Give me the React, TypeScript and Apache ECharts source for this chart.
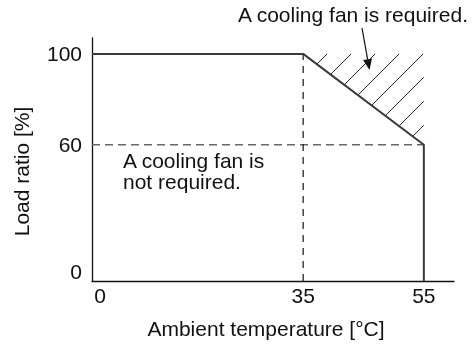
import React, { useEffect, useRef } from "react";
import * as echarts from "echarts";

// Derating curve
const curveX = [0, 35, 55, 55];
const curveY = [100, 100, 60, 0];
// Dashed guide lines
const guideHX = [0, 55];
const guideHY = [60, 60];
const guideVX = [35, 35];
const guideVY = [0, 100];
// Region where a cooling fan is required (hatched)
const hatchX = [35, 55, 55];
const hatchY = [100, 100, 60];
// Tick labels
const xTicks = [0, 35, 55];
const yTicks = [0, 60, 100];

const FONT = "'Liberation Sans', Arial, Helvetica, sans-serif";
const FS = 21;

function pairs(xs: number[], ys: number[]) {
  return xs.map((x, i) => [x, ys[i]]);
}

export default function App() {
  const ref = useRef<HTMLDivElement>(null);
  useEffect(() => {
    if (!ref.current) return;
    const chart = echarts.init(ref.current, null, { renderer: "svg" });

    const tip = [369.5, 70];
    const start = [362, 28];
    const dx = tip[0] - start[0];
    const dy = tip[1] - start[1];
    const len = Math.hypot(dx, dy);
    const ux = dx / len, uy = dy / len;
    const hl = 11, hw = 4.5;
    const bx = tip[0] - ux * hl, by = tip[1] - uy * hl;
    const px = -uy, py = ux;

    chart.setOption({
      animation: false,
      grid: { left: 92, right: 19, top: 38, bottom: 62, containLabel: false },
      textStyle: { fontFamily: FONT },
      xAxis: {
        type: "value",
        min: 0,
        max: 60,
        name: "Ambient temperature [°C]",
        nameLocation: "middle",
        nameGap: 37,
        nameTextStyle: { fontSize: FS, color: "#111", fontFamily: FONT, padding: [0, 14, 0, 0] },
        axisLine: { lineStyle: { color: "#111", width: 1.3 } },
        axisTick: { show: false },
        splitLine: { show: false },
        axisLabel: {
          customValues: xTicks,
          margin: 4,
          fontSize: FS,
          color: "#111",
          fontFamily: FONT,
          formatter: (v: number) => (v === 0 ? "{z|0}" : String(v)),
          rich: { z: { padding: [0, 0, 0, 16], fontSize: FS, color: "#111", fontFamily: FONT } },
        },
      },
      yAxis: {
        type: "value",
        min: 0,
        max: 107,
        name: "Load ratio [%]",
        nameLocation: "middle",
        nameGap: 60,
        nameTextStyle: { fontSize: FS, color: "#111", fontFamily: FONT, padding: [0, 24, 0, 0] },
        axisLine: { lineStyle: { color: "#111", width: 1.3 } },
        axisTick: { show: false },
        splitLine: { show: false },
        axisLabel: {
          customValues: yTicks,
          margin: 10,
          fontSize: FS,
          color: "#111",
          fontFamily: FONT,
          formatter: (v: number) => (v === 0 ? "{z|0}" : String(v)),
          rich: { z: { padding: [0, 0, 20, 0], fontSize: FS, color: "#111", fontFamily: FONT } },
        },
      },
      series: [
        {
          type: "line",
          data: pairs(guideHX, guideHY),
          symbol: "none",
          lineStyle: { color: "#666", width: 1.5, type: [8, 5] },
          z: 1,
        },
        {
          type: "line",
          data: pairs(guideVX, guideVY),
          symbol: "none",
          lineStyle: { color: "#111", width: 1.2, type: [7, 6] },
          z: 1,
        },
        {
          type: "custom",
          data: [0],
          z: 2,
          renderItem: (params: any, api: any) => {
            const pts = hatchX.map((x, i) => api.coord([x, hatchY[i]]));
            const [A, B, C] = pts;
            const spacing = 24;
            const cA = A[0] + A[1];
            const cC = C[0] + C[1];
            const children: any[] = [];
            for (let c = cA + spacing; c < cC; c += spacing) {
              const t = (c - cA) / (cC - cA);
              const sx = A[0] + t * (C[0] - A[0]);
              const sy = A[1] + t * (C[1] - A[1]);
              let ex = c - A[1];
              let ey = A[1];
              if (ex > B[0]) {
                ex = B[0];
                ey = c - B[0];
              }
              children.push({
                type: "line",
                shape: { x1: sx, y1: sy, x2: ex, y2: ey },
                style: { stroke: "#222", lineWidth: 1 },
              });
            }
            return { type: "group", children };
          },
        },
        {
          type: "line",
          data: pairs(curveX, curveY),
          symbol: "none",
          lineStyle: { color: "#3a3a3a", width: 2 },
          z: 3,
        },
      ],
      graphic: [
        {
          type: "text",
          left: 238,
          top: 4,
          style: { text: "A cooling fan is required.", fontSize: FS, fontFamily: FONT, fill: "#111" },
        },
        {
          type: "text",
          x: 123,
          y: 170.5,
          style: {
            text: "A cooling fan is\nnot required.",
            fontSize: FS,
            lineHeight: 21,
            fontFamily: FONT,
            fill: "#111",
            verticalAlign: "middle",
          },
        },
        {
          type: "line",
          shape: { x1: start[0], y1: start[1], x2: bx, y2: by },
          style: { stroke: "#111", lineWidth: 1.2 },
        },
        {
          type: "polygon",
          shape: {
            points: [
              tip,
              [bx + px * hw, by + py * hw],
              [bx - px * hw, by - py * hw],
            ],
          },
          style: { fill: "#111" },
        },
      ],
    });
    return () => chart.dispose();
  }, []);
  return (
    <div
      ref={ref}
      style={{ position: "fixed", left: 0, top: 0, width: 473, height: 344 }}
    />
  );
}
